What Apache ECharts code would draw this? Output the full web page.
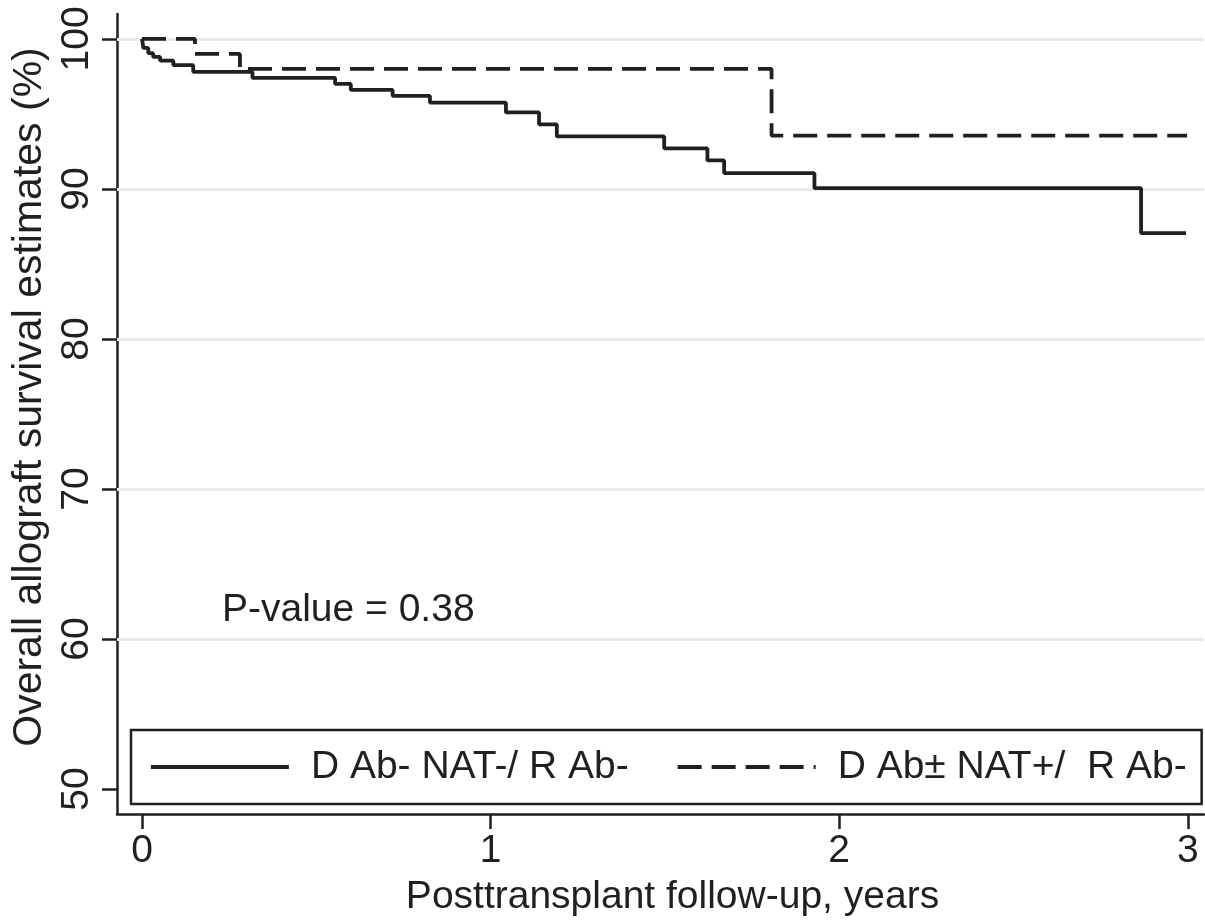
<!DOCTYPE html>
<html>
<head>
<meta charset="utf-8">
<script src="https://cdn.jsdelivr.net/npm/echarts@6/dist/echarts.min.js"></script>
<style>
  html, body { margin: 0; padding: 0; background: #fff; }
  #chart { width: 1205px; height: 922px; }
</style>
</head>
<body>
<div id="chart"></div>
<script>
// Kaplan-Meier allograft survival, two donor/recipient groups
const seriesNames = ['D Ab- NAT-/ R Ab-', 'D Ab\u00b1 NAT+/  R Ab-'];

// Group 1 (solid): event times (years) and survival (%)
const timesSolid = [0, 0.004, 0.018, 0.032, 0.052, 0.09, 0.147, 0.317, 0.554, 0.599, 0.719, 0.826,
  1.044, 1.139, 1.19, 1.498, 1.622, 1.670, 1.929, 2.866, 2.995];
const survSolid = [100, 99.4, 99.05, 98.8, 98.55, 98.25, 97.8, 97.4, 97.0, 96.6, 96.2, 95.75,
  95.1, 94.3, 93.5, 92.7, 91.9, 91.05, 90.05, 87.05, 87.05];

// Group 2 (dashed)
const timesDashed = [0, 0.152, 0.281, 1.806, 2.998];
const survDashed = [100, 99.0, 98.0, 93.55, 93.55];

// Axis ticks
const xTicks = [0, 1, 2, 3];
const yTicks = [50, 60, 70, 80, 90, 100];
const gridValues = [60, 70, 80, 90, 100];

const pText = 'P-value = 0.38';
const xTitle = 'Posttransplant follow-up, years';
const yTitle = 'Overall allograft survival estimates (%)';

const ink = '#231f20';
const font = 'Liberation Sans, Arial, Helvetica, sans-serif';

const zip = (xs, ys) => xs.map((x, i) => [x, ys[i]]);

const chart = echarts.init(document.getElementById('chart'), null, { renderer: 'canvas' });
chart.setOption({
  animation: false,
  backgroundColor: '#ffffff',
  textStyle: { fontFamily: font, color: ink },
  grid: { left: 117, top: 14, right: 1, bottom: 105, containLabel: false },
  title: {
    text: pText,
    left: 217, top: 586,
    textStyle: { fontFamily: font, fontSize: 39, fontWeight: 'normal', color: ink }
  },
  legend: {
    left: 131, top: 730,
    orient: 'horizontal',
    padding: [17, 15, 17, 18],
    itemGap: 47,
    itemWidth: 138,
    itemHeight: 14,
    borderColor: ink,
    borderWidth: 2.5,
    backgroundColor: '#ffffff',
    selectedMode: false,
    // line-only keys: hide the marker drawn in the middle of each key line
    itemStyle: { color: 'rgba(0,0,0,0)', borderColor: 'rgba(0,0,0,0)', borderWidth: 0 },
    lineStyle: { width: 3.8, color: ink },
    textStyle: { fontFamily: font, fontSize: 39, color: ink, lineHeight: 40, padding: [0, 0, 0, 17] },
    data: seriesNames
  },
  xAxis: {
    type: 'value',
    min: -0.0717, max: 3.0465,
    name: xTitle,
    nameLocation: 'middle',
    nameGap: 64,
    nameTextStyle: { fontFamily: font, fontSize: 39, color: ink, padding: [0, 0, 0, 24] },
    axisLine: { show: true, onZero: false, lineStyle: { color: ink, width: 2.5 } },
    axisTick: { show: true, length: 15, lineStyle: { color: ink, width: 2.5 }, customValues: xTicks },
    axisLabel: { fontFamily: font, fontSize: 39, color: ink, margin: 18, customValues: xTicks },
    splitLine: { show: false }
  },
  yAxis: {
    type: 'value',
    min: 48.34, max: 101.66,
    name: yTitle,
    nameLocation: 'middle',
    nameGap: 62,
    nameRotate: 90,
    nameTextStyle: { fontFamily: font, fontSize: 41, color: ink, padding: [0, 0, 0, 34] },
    axisLine: { show: true, onZero: false, lineStyle: { color: ink, width: 2.5 } },
    axisTick: { show: true, length: 15, lineStyle: { color: ink, width: 2.5 }, customValues: yTicks },
    axisLabel: { fontFamily: font, fontSize: 39, color: ink, margin: 20, rotate: 90, customValues: yTicks },
    splitLine: { show: false }
  },
  series: [
    {
      // horizontal reference grid lines behind the curves
      name: 'grid',
      type: 'line',
      data: [],
      silent: true,
      z: 1,
      markLine: {
        z: 1,
        silent: true,
        symbol: ['none', 'none'],
        label: { show: false },
        lineStyle: { color: '#e8e9e9', width: 3, type: 'solid' },
        data: gridValues.map(v => ({ yAxis: v }))
      }
    },
    {
      name: seriesNames[0],
      type: 'line',
      step: 'end',
      symbol: 'none',
      z: 3,
      lineStyle: { color: ink, width: 3.8, type: 'solid' },
      itemStyle: { color: ink },
      data: zip(timesSolid, survSolid)
    },
    {
      name: seriesNames[1],
      type: 'line',
      step: 'end',
      symbol: 'none',
      z: 3,
      lineStyle: { color: ink, width: 3.8, type: [24, 10] },
      itemStyle: { color: ink },
      data: zip(timesDashed, survDashed)
    }
  ]
});
</script>
</body>
</html>
